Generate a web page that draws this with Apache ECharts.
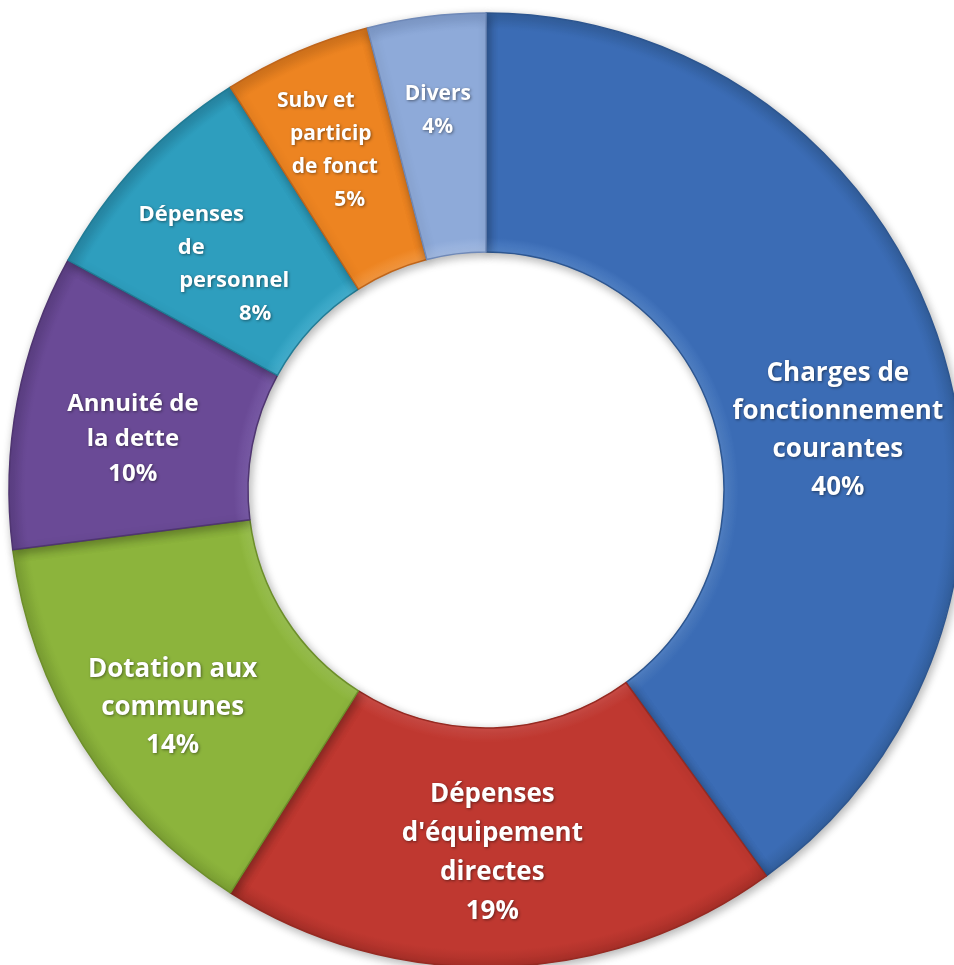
<!DOCTYPE html>
<html><head><meta charset="utf-8">
<style>html,body{margin:0;padding:0;background:#fff;}#c{width:954px;height:965px;}</style>
<script src="https://cdn.jsdelivr.net/npm/echarts@6/dist/echarts.min.js"></script>
</head><body><div id="c"></div>
<script>
const categories = [
  "Charges de\nfonctionnement\ncourantes",
  "Dépenses\nd'équipement\ndirectes",
  "Dotation aux\ncommunes",
  "Annuité de\nla dette",
  "Dépenses\nde\npersonnel",
  "Subv et\nparticip\nde fonct",
  "Divers"
];
const values = [40, 19, 14, 10, 8, 5, 4];

// styling (not data)
const colors  = ["#3b6cb5", "#bf3830", "#8cb43c", "#6a4a96", "#2e9ebe", "#ed8421", "#8eaad9"];
const lights  = ["#5283c8", "#cf4d47", "#9dc453", "#7a5ca8", "#45b0cf", "#f39841", "#a3bbe3"];
const darks   = ["#33609f", "#a82f28", "#7da234", "#5d4085", "#2789a7", "#d4741c", "#7f9bcb"];
const borders = ["#2d5690", "#962a22", "#6d8f2a", "#4f3571", "#217c96", "#c0651a", "#6f89b8"];
const fontSizes   = [26, 26, 26, 24, 22, 21, 21];
const lineHeights = [38, 39, 38, 35, 33, 33, 33];
const labelShift  = [[9, 52], [-5, 3], [-9, 24], [1, 17], [-32, 21], [-27, -9], [-3, -22]];
const linePads    = [[], [], [], [], [0, 0, 86, 128], [0, 30, 38, 68], []];

const CX = 486, CY = 490, R_IN = 238, R_OUT = 477;

function fill(i) {
  return {
    type: 'radial', x: CX, y: CY, r: R_OUT, global: true,
    colorStops: [
      {offset: 0, color: lights[i]},
      {offset: R_IN / R_OUT, color: lights[i]},
      {offset: R_IN / R_OUT + 0.03, color: colors[i]},
      {offset: 0.965, color: colors[i]},
      {offset: 1, color: darks[i]}
    ]
  };
}

const chart = echarts.init(document.getElementById('c'), null, {renderer: 'canvas'});
chart.setOption({
  animation: false,
  series: [{
    type: 'pie',
    center: [CX, CY],
    radius: [R_IN, R_OUT],
    startAngle: 90,
    clockwise: true,
    label: {
      show: true,
      position: 'inside',
      color: '#ffffff',
      fontFamily: 'Open Sans',
      fontWeight: 'bold',
      textShadowColor: 'rgba(0,0,0,0.45)',
      textShadowBlur: 3,
      textShadowOffsetX: 1,
      textShadowOffsetY: 1
    },
    labelLine: {show: false},
    labelLayout: p => ({dx: labelShift[p.dataIndex][0], dy: labelShift[p.dataIndex][1]}),
    itemStyle: {
      shadowBlur: 10,
      shadowColor: 'rgba(0,0,0,0.3)',
      shadowOffsetX: 2,
      shadowOffsetY: 3
    },
    emphasis: {disabled: true},
    data: categories.map((n, i) => {
      const lines = n.split('\n').concat([values[i] + '%']);
      const rich = {};
      lines.forEach((_, k) => {
        rich['l' + k] = {
          color: '#ffffff',
          fontFamily: 'Open Sans',
          fontWeight: 'bold',
          fontSize: fontSizes[i],
          lineHeight: lineHeights[i],
          padding: [0, 0, 0, (linePads[i][k] || 0)],
          textShadowColor: 'rgba(0,0,0,0.45)',
          textShadowBlur: 3,
          textShadowOffsetX: 1,
          textShadowOffsetY: 1
        };
      });
      return {
        name: n,
        value: values[i],
        itemStyle: {color: fill(i), borderColor: borders[i], borderWidth: 1.5},
        label: {
          fontSize: fontSizes[i],
          lineHeight: lineHeights[i],
          formatter: () => lines.map((t, k) => '{l' + k + '|' + t + '}').join('\n'),
          rich: rich
        }
      };
    })
  }]
});
</script>
</body></html>
